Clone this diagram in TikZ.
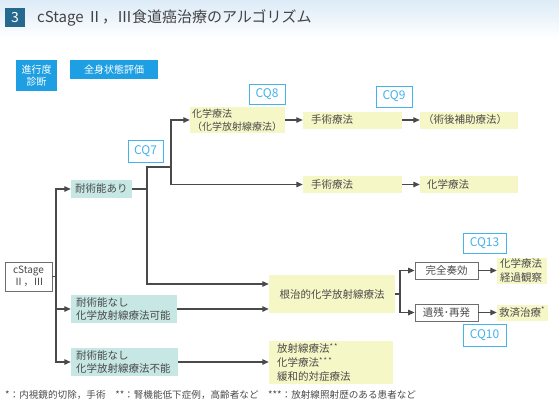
\documentclass[tikz,border=0pt]{standalone}
\usepackage{fontspec}
\setmainfont{Noto Sans CJK JP}
\usetikzlibrary{arrows.meta}
\definecolor{txt}{HTML}{4A4A4A}
\definecolor{qblue}{HTML}{45B2EA}
\definecolor{lblue}{HTML}{1E9FE3}
\definecolor{tblue}{HTML}{25698F}
\definecolor{yel}{HTML}{F6F7C6}
\definecolor{teal}{HTML}{C6E7E4}
\definecolor{sky}{HTML}{DCEBF7}
\begin{document}
\begin{tikzpicture}[x=1pt,y=-1pt,
    every node/.style={font=\fontsize{10.5}{13.5}\selectfont, text=txt, inner ysep=0pt},
    lab/.style={fill=lblue, text=white, align=center, font=\fontsize{10}{12}\selectfont},
    cq/.style={draw=qblue, line width=1pt, text=qblue, fill=white, font=\fontsize{12}{13}\selectfont},
    ybox/.style={fill=yel, align=left},
    tbox/.style={fill=teal, align=left},
    wbox/.style={draw=txt!80, line width=0.8pt, fill=white},
    conn/.style={draw=txt, line width=1.2pt},
    arr/.style={conn, -{Triangle[length=6.5pt,width=5.5pt]}}]
  \useasboundingbox (0,0) rectangle (559,405);
  \shade[top color=sky, bottom color=white] (0,0) rectangle (559,38);

  % title
  \node[fill=tblue, text=white, minimum width=20pt, minimum height=19pt, font=\fontsize{14}{14}\selectfont] (num) at (15,17.5) {3};
  \node[anchor=west, inner xsep=0pt, text=txt!90!black, font=\fontsize{15}{15}\selectfont] (title) at (37,17.5) {cStage Ⅱ，Ⅲ食道癌治療のアルゴリズム};

  \node[lab, minimum width=41pt, minimum height=31pt] (shindan) at (36.5,75.5) {進行度\\診断};
  \node[lab, minimum width=88pt, minimum height=19pt] (zenshin) at (114,69.5) {全身状態評価};

  % nodes
  \node[wbox, align=center, minimum width=47pt, minimum height=29pt, font=\fontsize{10}{12}\selectfont] (stage) at (28.5,276.5) {cStage\\Ⅱ，Ⅲ};
  \node[tbox, inner xsep=4pt, text width=53pt, minimum height=18pt] (ari) at (101.5,189) {耐術能あり};
  \node[tbox, inner xsep=5pt, text width=96pt, minimum height=28pt] (kano) at (124,309) {耐術能なし\\化学放射線療法可能};
  \node[tbox, inner xsep=5pt, text width=97pt, minimum height=28pt] (funo) at (124.5,362) {耐術能なし\\化学放射線療法不能};

  \node[ybox, inner xsep=2pt, text width=91pt, minimum height=26pt, font=\fontsize{10}{13}\selectfont] (chemo) at (237.5,120) {化学療法\\（化学放射線療法）};
  \node[ybox, inner xsep=8pt, text width=83pt, minimum height=17pt] (ope1) at (352.5,120) {手術療法};
  \node[ybox, inner xsep=3pt, text width=92pt, minimum height=17pt] (hojo) at (469,120) {（術後補助療法）};
  \node[ybox, inner xsep=8pt, text width=83pt, minimum height=17pt] (ope2) at (352.5,184.5) {手術療法};
  \node[ybox, inner xsep=7pt, text width=84pt, minimum height=17pt] (chemo2) at (469,184.5) {化学療法};

  \node[fill=yel, minimum width=126pt, minimum height=38pt] (kon) at (332,294) {根治的化学放射線療法};
  \node[ybox, inner xsep=8pt, text width=108pt, minimum height=43pt, font=\fontsize{10.5}{14}\selectfont] (rt) at (331,362.5) {放射線療法\textsuperscript{*\,*}\\化学療法\textsuperscript{*\,*\,*}\\緩和的対症療法};
  \node[wbox, minimum width=63pt, minimum height=17pt] (kan) at (446.5,270.5) {完全奏効};
  \node[wbox, minimum width=63pt, minimum height=17pt] (isan) at (446.5,312.5) {遺残･再発};
  \node[ybox, inner xsep=3pt, text width=44pt, minimum height=26pt] (keika) at (522,270.5) {化学療法\\経過観察};
  \node[ybox, inner xsep=2pt, text width=47pt, minimum height=16pt] (kyusai) at (522.5,312.5) {救済治療\textsuperscript{*}};

  % CQ labels
  \node[cq, minimum width=35pt, minimum height=22pt] (cq7) at (145.5,151) {CQ7};
  \node[cq, minimum width=36pt, minimum height=20pt] (cq8) at (267,94) {CQ8};
  \node[cq, minimum width=36pt, minimum height=21pt] (cq9) at (394,96.5) {CQ9};
  \node[cq, minimum width=43pt, minimum height=20pt] (cq13) at (484.5,243) {CQ13};
  \node[cq, minimum width=43pt, minimum height=22pt] (cq10) at (484.5,335) {CQ10};

  % connectors
  \coordinate (f1) at (56,276.5);
  \coordinate (f2) at (147,189);
  \coordinate (f3) at (171,167);
  \coordinate (f4) at (400,294);
  \draw[conn] (stage.east) -- (f1);
  \draw[arr] (f1) |- (ari.west);
  \draw[arr] (f1) |- (kano.west);
  \draw[arr] (f1) |- (funo.west);
  \draw[conn] (ari.east) -- (f2) |- (f3);
  \draw[arr] (f3) |- (chemo.west);
  \draw[arr] (f3) |- (ope2.west);
  \draw[arr] (f2) |- ([yshift=10pt]kon.west);
  \draw[arr] (kano.east) -- (kano.east -| kon.west);
  \draw[arr] (funo.east) -- (funo.east -| rt.west);
  \draw[arr] (chemo.east) -- (ope1.west);
  \draw[arr] (ope1.east) -- (hojo.west);
  \draw[arr] (ope2.east) -- (chemo2.west);
  \draw[conn] (kon.east) -- (f4);
  \draw[arr] (f4) |- (kan.west);
  \draw[arr] (f4) |- (isan.west);
  \draw[arr] (kan.east) -- (keika.west);
  \draw[arr] (isan.east) -- (kyusai.west);

  % footnote
  \node[anchor=west, inner xsep=0pt, font=\fontsize{9.6}{11}\selectfont] (note) at (5,395) {*：内視鏡的切除，手術\quad **：腎機能低下症例，高齢者など\quad ***：放射線照射歴のある患者など};
\end{tikzpicture}
\end{document}
